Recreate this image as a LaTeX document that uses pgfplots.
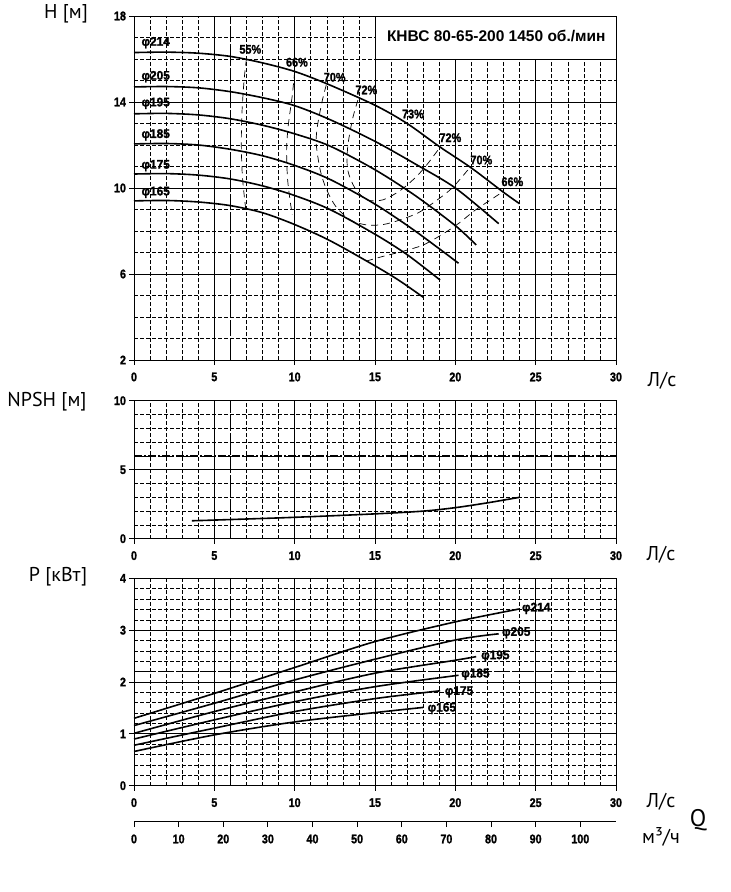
\documentclass[border=0pt]{standalone}
\usepackage{fontspec}
\setmainfont{Liberation Sans}
\newfontfamily\hv{Liberation Sans Bold}[FakeBold=1.6]
\newfontfamily\labf{PT Sans}
\usepackage{pgfplots}
\pgfplotsset{compat=1.18}

\newcommand\tickf{\hv\fontsize{12.5}{12.5}\selectfont}
\newcommand\phif{\hv\fontsize{12.5}{12.5}\selectfont}
\newcommand\pctf{\hv\fontsize{12.5}{12.5}\selectfont}
\newcommand\axf{\labf\fontsize{20}{20}\selectfont}
\newcommand\titlef{\bfseries\fontsize{15.5}{15.5}\selectfont}

\tikzset{special/.style={black,line width=1.5pt,dash pattern=on 8pt off 2pt on 2pt off 2pt},
  phl/.style={font=\phif,anchor=west,inner sep=0pt,xscale=0.95},
  pcl/.style={font=\pctf,xscale=0.87}}
\pgfplotsset{
  pump/.style={
    scale only axis, width=482pt,
    xmin=0,xmax=30, xtick={0,5,...,30}, minor x tick num=4,
    grid=both,
    major grid style={black,line width=0.9pt},
    minor grid style={black,line width=0.55pt,dash pattern=on 4pt off 2pt},
    axis line style={black,line width=1pt},
    tick align=outside, tick pos=left,
    major tick length=5pt, minor tick length=0pt,
    every tick/.style={black,line width=0.8pt},
    ticklabel style={font=\tickf,xscale=0.86},
    xticklabel style={yshift=-4pt},
    /pgf/number format/assume math mode=true,
    clip=false,
  },
  curve/.style={black,line width=1.6pt,smooth,no markers},
  eff/.style={black,line width=0.7pt,smooth,no markers,dash pattern=on 7pt off 5pt},
}

\begin{document}
\begin{tikzpicture}
\useasboundingbox (0,0) rectangle (731pt,-892pt);

% ---------------- H(Q) ----------------
\begin{axis}[pump, at={(134pt,-360pt)}, anchor=south west, height=344pt,
  ymin=2, ymax=18, ytick={2,6,...,18}, minor y tick num=3]
\draw[special] (axis cs:6,2) -- (axis cs:6,18);
\draw[black,line width=1pt,fill=white] (axis cs:15,16) rectangle (axis cs:30,18);
\node[font=\titlef] at (axis cs:22.55,17.05) {КНВС 80-65-200 1450 об./мин};

\addplot[curve] coordinates {(0,16.3)(2,16.32)(4,16.27)(6,16.12)(8,15.82)(10,15.42)(12,14.85)(15,13.85)(17,13.0)(19,11.93)(21,10.93)(23,9.8)(24,9.27)};
\addplot[curve] coordinates {(0,14.7)(2,14.72)(4,14.66)(6,14.48)(8,14.2)(10,13.83)(12.2,13.18)(15,12.17)(17.5,11.12)(20,10.0)(22.7,8.34)};
\addplot[curve] coordinates {(0,13.45)(2,13.47)(4,13.4)(6,13.22)(8,12.92)(10,12.52)(12.2,11.95)(15,10.85)(17.5,9.65)(20,8.25)(21.3,7.35)};
\addplot[curve] coordinates {(0,12.05)(2,12.07)(4,12.0)(6,11.8)(8,11.5)(10,11.05)(12.2,10.4)(15,9.25)(17.5,8.0)(20.2,6.5)};
\addplot[curve] coordinates {(0,10.65)(2,10.67)(4,10.6)(6,10.42)(8,10.1)(10,9.65)(12.2,9.0)(15,7.85)(17,6.9)(19.05,5.72)};
\addplot[curve] coordinates {(0,9.4)(2,9.42)(4,9.35)(6,9.18)(8,8.85)(10,8.3)(12.2,7.55)(15,6.38)(16.5,5.7)(18,4.92)};

% efficiency iso-lines
\addplot[eff] coordinates {(7.0,16.02)(6.85,15)(6.72,13.5)(6.68,12)(6.75,10.5)(6.95,9.05)};
\addplot[eff] coordinates {(10.0,15.42)(9.85,14.3)(9.6,12.9)(9.5,11.8)(9.55,10.5)(9.7,9.5)(9.85,8.75)};
\addplot[eff] coordinates {(11.97,14.8)(11.7,14.0)(11.4,12.8)(11.35,12.0)(11.6,10.8)(12.0,9.9)(12.6,9.1)(13.5,8.5)(14.5,8.28)(15.5,8.3)(16.5,8.5)(17.7,8.85)(18.7,9.35)(19.8,10.0)(20.9,10.95)};
\addplot[eff] coordinates {(13.94,14.1)(13.6,13.2)(13.3,11.9)(13.3,10.85)(13.75,10.0)(14.5,9.45)(15.5,9.45)(16.6,9.9)(17.6,10.55)(18.3,11.15)(19.1,11.95)};
\addplot[eff] coordinates {(14.45,6.6)(15.5,6.82)(16.8,7.07)(18.0,7.35)(19.2,7.85)(20.2,8.35)(21.2,8.95)(22.2,9.45)(23.0,9.85)};

\node[pcl] at (axis cs:7.24,16.45) {55\%};
\node[pcl] at (axis cs:10.14,15.85) {66\%};
\node[pcl] at (axis cs:12.49,15.15) {70\%};
\node[pcl] at (axis cs:14.46,14.56) {72\%};
\node[pcl] at (axis cs:17.36,13.44) {73\%};
\node[pcl] at (axis cs:19.69,12.34) {72\%};
\node[pcl] at (axis cs:21.62,11.3) {70\%};
\node[pcl] at (axis cs:23.55,10.29) {66\%};

\node[phl] at (axis cs:0.46,16.76) {φ214};
\node[phl] at (axis cs:0.46,15.18) {φ205};
\node[phl] at (axis cs:0.46,13.94) {φ195};
\node[phl] at (axis cs:0.46,12.47) {φ185};
\node[phl] at (axis cs:0.46,11.04) {φ175};
\node[phl] at (axis cs:0.46,9.8) {φ165};
\end{axis}

% ---------------- NPSH ----------------
\begin{axis}[pump, at={(134pt,-538.7pt)}, anchor=south west, height=138pt,
  ymin=0, ymax=10, ytick={0,5,10}, minor y tick num=4]
\draw[special] (axis cs:6,0) -- (axis cs:6,10);
\draw[special] (axis cs:0,6) -- (axis cs:30,6);
\addplot[curve] coordinates {(3.6,1.3)(5,1.35)(10,1.55)(15,1.8)(18,2.0)(20,2.25)(22,2.6)(24,3.0)};
\end{axis}

% ---------------- P ----------------
\begin{axis}[pump, at={(134pt,-785.7pt)}, anchor=south west, height=207.4pt,
  ymin=0, ymax=4, ytick={0,1,2,3,4}, minor y tick num=4]
\draw[special] (axis cs:6,0) -- (axis cs:6,4);
\draw[special] (axis cs:0,2.2) -- (axis cs:30,2.2);
\addplot[curve] coordinates {(0,1.3)(5,1.78)(10,2.28)(15,2.78)(20,3.16)(24,3.41)};
\addplot[curve] coordinates {(0,1.16)(5,1.59)(10,2.04)(15,2.44)(20,2.81)(22.7,2.93)};
\addplot[curve] coordinates {(0,1.01)(5,1.43)(10,1.81)(15,2.17)(20,2.42)(21.3,2.49)};
\addplot[curve] coordinates {(0,0.9)(5,1.27)(10,1.62)(15,1.91)(20.2,2.13)};
\addplot[curve] coordinates {(0,0.78)(5,1.11)(10,1.43)(15,1.68)(19.05,1.83)};
\addplot[curve] coordinates {(0,0.66)(5,0.98)(10,1.23)(15,1.41)(18,1.51)};
\node[phl] at (axis cs:24.14,3.42) {φ214};
\node[phl] at (axis cs:22.9,2.95) {φ205};
\node[phl] at (axis cs:21.6,2.5) {φ195};
\node[phl] at (axis cs:20.36,2.15) {φ185};
\node[phl] at (axis cs:19.34,1.81) {φ175};
\node[phl] at (axis cs:18.27,1.49) {φ165};
\end{axis}

% ---------------- m3/h scale ----------------
\begin{axis}[at={(134pt,-821pt)}, anchor=south west, scale only axis,
  width=482pt, height=10pt, xmin=0, xmax=108, ymin=0, ymax=1,
  axis x line=bottom, axis y line=none,
  axis line style={-,black,line width=1pt},
  xtick={0,10,...,100}, tick align=outside, major tick length=6pt,
  every tick/.style={black,line width=0.8pt},
  xticklabel style={font=\tickf,xscale=0.86,yshift=-4pt},
  /pgf/number format/assume math mode=true]
\end{axis}

% ---------------- labels ----------------
\node[font=\axf] at (66pt,-14pt) {H [м]};
\node[font=\axf] at (47pt,-402pt) {NPSH [м]};
\node[font=\axf] at (58pt,-577pt) {P [кВт]};
\node[font=\axf] at (662pt,-381pt) {Л/с};
\node[font=\axf] at (661pt,-555pt) {Л/с};
\node[font=\axf] at (661pt,-802pt) {Л/с};
\node[font=\axf] at (661pt,-837pt) {м³/ч};
\node[font=\labf\fontsize{24}{24}\selectfont] at (698pt,-820pt) {Q};
\end{tikzpicture}
\end{document}
